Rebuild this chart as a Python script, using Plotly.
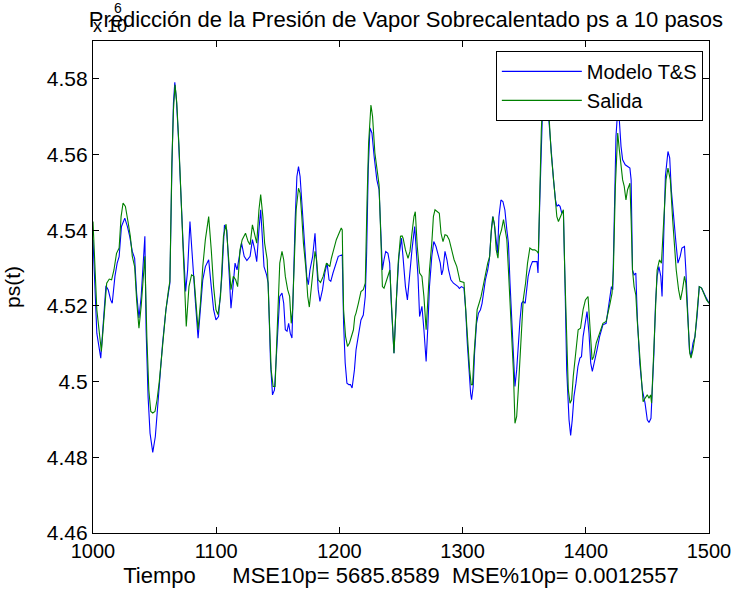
import plotly.graph_objects as go

# Time axis and pressure series (values in units of 1e6 Pa)
t_modelo = [
    1000, 1003.1, 1006.3, 1008.4, 1010.5, 1012.4, 1014.3, 1015.6, 1017.8, 1019.6,
    1021.2, 1023.1, 1025.8, 1027.9, 1029.8, 1031.9, 1033.8, 1035.4, 1037.3, 1039.1,
    1040.5, 1042.1, 1043.1, 1044.7, 1046.3, 1048.5, 1050.6, 1052.5, 1053.8, 1056.5,
    1059.2, 1061.3, 1062.4, 1064.0, 1065.3, 1066.4, 1067.7, 1069.3, 1071.2, 1073.1,
    1075.2, 1076.8, 1078.7, 1080.5, 1083.2, 1085.3, 1087.2, 1089.1, 1091.2, 1093.9,
    1096.0, 1097.9, 1099.8, 1101.9, 1104.6, 1106.7, 1108.6, 1110.4, 1112.0, 1113.9,
    1115.3, 1116.9, 1118.5, 1120.6, 1122.7, 1124.9,
    1127.5, 1129.4, 1131.3, 1132.9, 1134.7, 1136.1, 1137.4, 1138.8, 1140.9, 1142.2,
    1144.1, 1145.7, 1147.3, 1148.6, 1150.0, 1151.6, 1153.4, 1154.8, 1156.1, 1157.5,
    1158.8, 1160.1, 1161.5, 1162.8, 1164.1, 1165.5, 1166.8, 1168.1, 1169.5, 1170.8,
    1172.1, 1173.5, 1174.8, 1176.1, 1178.3, 1180.2, 1181.5, 1182.8, 1184.2, 1186.3,
    1188.2, 1190.0, 1191.6, 1193.0, 1194.8, 1197.0, 1199.1, 1202.3, 1203.4, 1204.7,
    1206.1, 1207.7, 1209.0, 1210.3, 1212.2, 1213.5, 1215.4, 1217.5, 1219.4, 1221.0,
    1222.1, 1223.4, 1224.8, 1226.4, 1228.2, 1230.4, 1232.2, 1233.6, 1234.9, 1236.2,
    1237.6, 1239.4, 1240.8, 1242.1, 1244.3, 1246.1, 1248.3, 1250.4,
    1251.7, 1253.6, 1255.2, 1257.1, 1258.9, 1261.1, 1262.4, 1263.8, 1265.1, 1267.0,
    1268.6, 1270.4, 1271.8, 1273.1, 1275.0, 1276.6, 1278.4, 1280.3, 1281.9, 1283.0,
    1284.1, 1285.7, 1287.3, 1288.6, 1290.5, 1292.6, 1294.5, 1296.3, 1297.4, 1299.0,
    1301.1, 1302.5, 1303.8, 1305.2, 1306.5, 1307.3, 1308.6, 1309.7, 1311.3, 1312.9,
    1314.5, 1315.8, 1317.2, 1318.5, 1320.4, 1321.7, 1323.0, 1324.4, 1325.7, 1327.1,
    1328.4, 1329.5, 1331.1, 1332.7, 1334.3, 1335.9, 1337.2, 1338.5, 1339.9, 1341.2,
    1342.5, 1343.9, 1345.2, 1346.6, 1347.9, 1349.2, 1350.8, 1351.9, 1353.2, 1355.1,
    1356.7, 1360.4, 1361.2, 1362.6, 1363.9, 1365.2, 1366.8, 1368.4, 1370.0, 1371.9,
    1373.8, 1375.4,
    1376.5, 1377.8, 1379.1, 1380.5, 1381.8, 1382.9, 1384.5, 1386.4, 1387.7, 1389.0,
    1390.4, 1392.0, 1393.6, 1395.2, 1396.5, 1397.8, 1399.2, 1401.0, 1402.6, 1404.0,
    1405.3, 1406.9, 1409.1, 1411.2, 1413.9, 1416.5, 1418.1, 1419.7, 1420.8, 1421.9,
    1423.2, 1424.5, 1425.9, 1427.2, 1428.6, 1429.9, 1432.0, 1433.9, 1435.8, 1436.8,
    1437.9, 1439.2, 1440.6, 1441.9, 1443.8, 1445.9, 1448.1, 1449.9, 1451.3, 1452.9,
    1453.9, 1455.3, 1456.6, 1457.9, 1459.3, 1460.9, 1461.9, 1463.3, 1464.6, 1466.7,
    1468.1, 1469.4, 1471.3, 1473.2, 1474.8, 1476.6, 1478.0, 1480.1, 1481.2, 1482.8,
    1484.1, 1485.4, 1487.0, 1488.6, 1490.3, 1492.1, 1494.0, 1497.2, 1500,
]
ps_modelo = [
    4.5375, 4.5128, 4.5062, 4.5154, 4.5253, 4.5242, 4.5216, 4.5207, 4.5278, 4.5313,
    4.5330, 4.5410, 4.5432, 4.5410, 4.5384, 4.5344, 4.5326, 4.5234, 4.5168, 4.5225,
    4.5295, 4.5384, 4.5137, 4.4961, 4.4864, 4.4813, 4.4855, 4.4934, 4.4996, 4.5102,
    4.5190, 4.5234, 4.5260, 4.5560, 4.5736, 4.5791, 4.5745, 4.5648, 4.5489, 4.5366,
    4.5238, 4.5295, 4.5423, 4.5330, 4.5207, 4.5115, 4.5190, 4.5269, 4.5304, 4.5322,
    4.5251, 4.5190, 4.5163, 4.5172, 4.5278, 4.5414, 4.5401, 4.5295, 4.5194, 4.5260,
    4.5313, 4.5295, 4.5331, 4.5366, 4.5331, 4.5320,
    4.5331, 4.5375, 4.5348, 4.5317, 4.5401, 4.5454, 4.5384, 4.5304, 4.5282, 4.5260,
    4.5049, 4.4965, 4.4978, 4.5049, 4.5154, 4.5225, 4.5234, 4.5207, 4.5137, 4.5133,
    4.5154, 4.5128, 4.5115, 4.5295, 4.5428, 4.5542, 4.5568, 4.5542, 4.5472, 4.5401,
    4.5331, 4.5278, 4.5256, 4.5295, 4.5331, 4.5392, 4.5313, 4.5243, 4.5212, 4.5243,
    4.5287, 4.5313, 4.5269, 4.5265, 4.5287, 4.5313, 4.5331, 4.5335, 4.5154, 4.5049,
    4.4996, 4.4992, 4.4992, 4.4983, 4.5031, 4.5084, 4.5128, 4.5163, 4.5176, 4.5225,
    4.5339, 4.5560, 4.5670, 4.5657, 4.5595, 4.5533, 4.5507, 4.5401, 4.5295, 4.5322,
    4.5344, 4.5339, 4.5313, 4.5207, 4.5075, 4.5207, 4.5331, 4.5379,
    4.5322, 4.5251, 4.5216, 4.5295, 4.5348, 4.5410, 4.5357, 4.5278, 4.5172, 4.5199,
    4.5137, 4.5053, 4.5146, 4.5251, 4.5331, 4.5370, 4.5357, 4.5331, 4.5313, 4.5282,
    4.5295, 4.5344, 4.5322, 4.5295, 4.5269, 4.5260, 4.5256, 4.5251, 4.5246, 4.5251,
    4.5247, 4.5190, 4.5102, 4.5013, 4.4969, 4.4952, 4.4987, 4.5075, 4.5154, 4.5181,
    4.5190, 4.5207, 4.5243, 4.5269, 4.5295, 4.5322, 4.5384, 4.5436, 4.5419, 4.5366,
    4.5339, 4.5436, 4.5480, 4.5476, 4.5454, 4.5401, 4.5366, 4.5260, 4.5163, 4.5066,
    4.4987, 4.5031, 4.5102, 4.5163, 4.5207, 4.5212, 4.5207, 4.5243, 4.5278, 4.5304,
    4.5317, 4.5317, 4.5287, 4.5472, 4.5648, 4.5753, 4.5780, 4.5753, 4.5692, 4.5604,
    4.5533, 4.5480,
    4.5463, 4.5467, 4.5463, 4.5445, 4.5450, 4.5295, 4.5031, 4.4899, 4.4858, 4.4899,
    4.4961, 4.4996, 4.5040, 4.5062, 4.5066, 4.5119, 4.5154, 4.5185, 4.5128, 4.5049,
    4.5027, 4.5049, 4.5084, 4.5119, 4.5150, 4.5154, 4.5190, 4.5216, 4.5251, 4.5243,
    4.5472, 4.5648, 4.5718, 4.5692, 4.5621, 4.5586, 4.5573, 4.5569, 4.5564, 4.5533,
    4.5295, 4.5282, 4.5287, 4.5163, 4.5049, 4.4978, 4.4943, 4.4899, 4.4892, 4.4903,
    4.4969, 4.5075, 4.5207, 4.5278, 4.5304, 4.5278, 4.5225, 4.5401, 4.5542, 4.5608,
    4.5591, 4.5507, 4.5428, 4.5366, 4.5313, 4.5331, 4.5353, 4.5357, 4.5295, 4.5154,
    4.5084, 4.5066, 4.5102, 4.5119, 4.5172, 4.5251, 4.5247, 4.5225, 4.5207,
]

t_salida = [
    1000, 1003.1, 1006.8, 1008.9, 1011.1, 1013.2, 1015.1, 1017.0, 1019.1, 1021.2,
    1022.8, 1024.4, 1026.3, 1028.4, 1030.3, 1031.9, 1033.8, 1035.4, 1037.3, 1039.1,
    1040.5, 1042.1, 1043.7, 1045.3, 1046.9, 1048.5, 1050.3, 1052.0, 1053.8, 1056.5,
    1059.2, 1061.3, 1062.4, 1064.0, 1065.3, 1066.6, 1068.0, 1069.8, 1071.7, 1073.3,
    1075.7, 1077.9, 1080.0, 1081.9, 1083.7, 1085.3, 1087.2, 1089.1, 1091.2, 1093.9,
    1096.0, 1097.9, 1099.8, 1101.4, 1103.5, 1105.9, 1108.0, 1109.9, 1112.0, 1113.9,
    1115.8, 1117.4, 1119.3, 1121.1, 1123.8, 1125.9,
    1127.5, 1129.4, 1131.3, 1132.9, 1134.7, 1136.1, 1137.9, 1139.3, 1141.4, 1142.8,
    1144.6, 1146.2, 1147.8, 1148.9, 1150.2, 1151.6, 1153.4, 1154.8, 1156.1, 1158.0,
    1159.6, 1160.9, 1162.0, 1163.3, 1164.9, 1166.8, 1168.1, 1169.5, 1170.8, 1172.9,
    1174.3, 1175.6, 1177.5, 1178.8, 1180.2, 1181.5, 1182.8, 1184.7, 1186.8, 1189.5,
    1190.8, 1192.2, 1193.5, 1195.4, 1197.5, 1199.7, 1201.5, 1202.3, 1203.4, 1205.0,
    1206.6, 1208.2, 1210.3, 1211.4, 1212.5, 1213.5, 1215.4, 1217.5, 1219.4, 1221.0,
    1222.4, 1223.7, 1225.6, 1226.9, 1228.8, 1230.6, 1232.2, 1233.6, 1234.9, 1236.2,
    1237.6, 1239.7, 1241.0, 1242.1, 1244.3, 1246.1, 1247.7, 1249.6, 1250.9,
    1251.7, 1253.6, 1255.7, 1257.3, 1258.9, 1260.5, 1261.6, 1263.2, 1265.1, 1267.0,
    1268.6, 1270.4, 1271.8, 1273.1, 1275.0, 1276.3, 1277.6, 1279.2, 1281.1, 1282.5,
    1284.1, 1285.7, 1287.3, 1289.1, 1291.0, 1293.1, 1295.3, 1296.9, 1297.9, 1301.1,
    1302.5, 1303.8, 1305.7, 1307.0, 1308.1, 1309.2, 1310.5, 1311.8, 1313.4, 1315.0,
    1316.6, 1318.5, 1320.4, 1322.0, 1323.3, 1324.7, 1326.0, 1327.3, 1328.7, 1330.0,
    1331.6, 1333.2, 1334.5, 1335.9, 1337.2, 1338.5, 1339.9, 1341.2, 1342.5, 1343.9,
    1345.2, 1346.6, 1347.9, 1349.2, 1351.1, 1352.7, 1354.6, 1356.7, 1358.6, 1360.4,
    1361.5, 1362.6, 1363.9, 1365.2, 1366.8, 1368.4, 1370.0, 1371.9, 1373.8, 1375.4,
    1376.5, 1377.8, 1379.1, 1380.5, 1381.8, 1382.9, 1384.5, 1385.8, 1387.2, 1388.5,
    1389.8, 1392.5, 1393.8, 1395.7, 1397.8, 1399.7, 1401.8, 1403.2, 1405.1, 1406.4,
    1408.5, 1411.2, 1413.9, 1416.5, 1418.1, 1419.7, 1421.3, 1422.4, 1424.0, 1425.9,
    1427.2, 1428.6, 1429.9, 1431.2, 1432.6, 1433.9, 1435.8, 1436.8, 1437.9, 1439.2,
    1440.6, 1441.9, 1443.8, 1445.4, 1446.5, 1448.1, 1449.9, 1451.3, 1452.6, 1453.4,
    1454.5, 1456.1, 1457.9, 1459.8, 1461.4, 1463.3, 1465.1, 1466.7, 1468.6, 1470.5,
    1472.1, 1473.4, 1475.3, 1476.9, 1478.5, 1480.1, 1481.2, 1482.8, 1484.4, 1485.4,
    1487.0, 1488.6, 1490.3, 1492.1, 1494.0, 1498.0, 1500,
]
ps_salida = [
    4.5423, 4.5190, 4.5080, 4.5172, 4.5260, 4.5271, 4.5269, 4.5295, 4.5339, 4.5353,
    4.5436, 4.5472, 4.5463, 4.5423, 4.5384, 4.5331, 4.5304, 4.5216, 4.5141, 4.5199,
    4.5260, 4.5331, 4.5119, 4.4978, 4.4921, 4.4917, 4.4921, 4.4952, 4.5000, 4.5102,
    4.5190, 4.5243, 4.5265, 4.5577, 4.5718, 4.5784, 4.5736, 4.5621, 4.5472, 4.5348,
    4.5146, 4.5251, 4.5282, 4.5278, 4.5190, 4.5137, 4.5207, 4.5304, 4.5375, 4.5436,
    4.5348, 4.5251, 4.5190, 4.5177, 4.5225, 4.5384, 4.5416, 4.5331, 4.5243, 4.5278,
    4.5269, 4.5251, 4.5348, 4.5375, 4.5392, 4.5370,
    4.5362, 4.5414, 4.5388, 4.5366, 4.5454, 4.5494, 4.5436, 4.5366, 4.5322, 4.5207,
    4.5031, 4.4987, 4.4987, 4.5084, 4.5207, 4.5313, 4.5344, 4.5322, 4.5278, 4.5243,
    4.5225, 4.5154, 4.5190, 4.5339, 4.5454, 4.5511, 4.5498, 4.5436, 4.5366, 4.5295,
    4.5225, 4.5197, 4.5251, 4.5304, 4.5344, 4.5322, 4.5269, 4.5262, 4.5278, 4.5313,
    4.5309, 4.5304, 4.5326, 4.5348, 4.5375, 4.5392, 4.5406, 4.5401, 4.5190, 4.5119,
    4.5093, 4.5102, 4.5124, 4.5137, 4.5172, 4.5181, 4.5207, 4.5238, 4.5243, 4.5260,
    4.5472, 4.5630, 4.5731, 4.5701, 4.5604, 4.5551, 4.5520, 4.5384, 4.5251, 4.5247,
    4.5260, 4.5278, 4.5295, 4.5216, 4.5075, 4.5207, 4.5313, 4.5384, 4.5385,
    4.5379, 4.5348, 4.5326, 4.5344, 4.5392, 4.5436, 4.5449, 4.5357, 4.5287, 4.5278,
    4.5225, 4.5137, 4.5216, 4.5295, 4.5366, 4.5436, 4.5454, 4.5449, 4.5445, 4.5392,
    4.5370, 4.5388, 4.5386, 4.5375, 4.5348, 4.5322, 4.5304, 4.5282, 4.5265, 4.5262,
    4.5190, 4.5119, 4.5031, 4.4992, 4.4992, 4.5066, 4.5146, 4.5190, 4.5207, 4.5225,
    4.5251, 4.5287, 4.5313, 4.5331, 4.5401, 4.5436, 4.5410, 4.5348, 4.5326, 4.5384,
    4.5401, 4.5428, 4.5401, 4.5375, 4.5295, 4.5207, 4.5119, 4.5031, 4.4890, 4.4908,
    4.4978, 4.5066, 4.5154, 4.5216, 4.5260, 4.5313, 4.5353, 4.5348, 4.5348, 4.5344,
    4.5339, 4.5516, 4.5665, 4.5753, 4.5789, 4.5762, 4.5710, 4.5604, 4.5533, 4.5471,
    4.5436, 4.5423, 4.5432, 4.5445, 4.5454, 4.5295, 4.5075, 4.4978, 4.4943, 4.4952,
    4.5013, 4.5102, 4.5137, 4.5141, 4.5190, 4.5216, 4.5225, 4.5154, 4.5058, 4.5066,
    4.5102, 4.5128, 4.5154, 4.5159, 4.5181, 4.5207, 4.5234, 4.5295, 4.5516, 4.5657,
    4.5613, 4.5569, 4.5533, 4.5516, 4.5480, 4.5507, 4.5524, 4.5428, 4.5295, 4.5251,
    4.5229, 4.5154, 4.5066, 4.4987, 4.4947, 4.4956, 4.4965, 4.4956, 4.4965, 4.4943,
    4.5031, 4.5163, 4.5295, 4.5322, 4.5313, 4.5428, 4.5533, 4.5564, 4.5533, 4.5428,
    4.5357, 4.5295, 4.5243, 4.5216, 4.5243, 4.5278, 4.5260, 4.5163, 4.5075, 4.5062,
    4.5084, 4.5119, 4.5181, 4.5251, 4.5247, 4.5216, 4.5207,
]

x_ticks = [1000, 1100, 1200, 1300, 1400, 1500]
y_ticks = [4.46, 4.48, 4.50, 4.52, 4.54, 4.56, 4.58]
y_tick_labels = ["4.46", "4.48", "4.5", "4.52", "4.54", "4.56", "4.58"]

FONT = "Liberation Sans, Arial, Helvetica, sans-serif"
NBSP = "\u00a0"

fig = go.Figure()
fig.add_trace(go.Scatter(x=t_modelo, y=ps_modelo, mode="lines", name="Modelo T&S",
                         line=dict(color="rgb(0,0,255)", width=1.1)))
fig.add_trace(go.Scatter(x=t_salida, y=ps_salida, mode="lines", name="Salida",
                         line=dict(color="rgb(0,128,0)", width=1.1)))

axis_common = dict(
    showline=True, linecolor="black", linewidth=1.3, mirror="ticks",
    ticks="inside", ticklen=6, tickcolor="black", tickwidth=1,
    showgrid=False, zeroline=False,
)

fig.update_xaxes(range=[1000, 1500], tickvals=x_ticks, **axis_common,
                 tickfont=dict(family=FONT, size=20, color="black"),
                 title=dict(text="Tiempo" + NBSP * 6 + "MSE10p= 5685.8589" + NBSP * 2 +
                            "MSE%10p= 0.0012557",
                            font=dict(family=FONT, size=22, color="black"), standoff=6))
fig.update_yaxes(range=[4.46, 4.59], tickvals=y_ticks, ticktext=y_tick_labels, **axis_common,
                 tickfont=dict(family=FONT, size=21, color="black"),
                 title=dict(text="ps(t)", font=dict(family=FONT, size=21, color="black"),
                            standoff=20))

# axis multiplier "x 10^6" above the top-left corner
fig.add_annotation(text="x 10", xref="paper", yref="paper", x=0, y=1,
                   xanchor="left", yanchor="bottom", xshift=-2, yshift=3, showarrow=False,
                   font=dict(family=FONT, size=18, color="black"))
fig.add_annotation(text="6", xref="paper", yref="paper", x=0, y=1,
                   xanchor="left", yanchor="bottom", xshift=19, yshift=23, showarrow=False,
                   font=dict(family=FONT, size=14, color="black"))

fig.update_layout(
    width=743, height=596,
    margin=dict(l=92, r=27, t=41, b=63),
    paper_bgcolor="white", plot_bgcolor="white",
    title=dict(text="Predicción de la Presión de Vapor Sobrecalentado ps a 10 pasos",
               x=0.508, xref="paper", xanchor="center", y=0.968, yanchor="middle",
               font=dict(family=FONT, size=22, color="black")),
    legend=dict(x=0.99, y=0.98, xanchor="right", yanchor="top",
                bgcolor="white", bordercolor="black", borderwidth=1,
                font=dict(family=FONT, size=20, color="black"),
                itemwidth=80, tracegroupgap=0),
    showlegend=True,
)

fig.write_html("out.html")
